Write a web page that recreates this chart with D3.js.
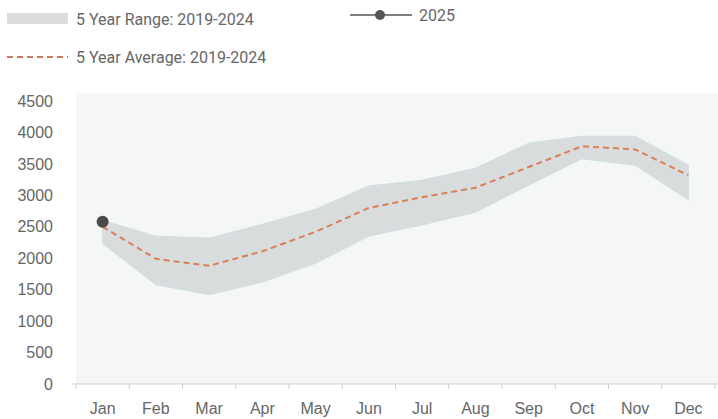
<!DOCTYPE html>
<html>
<head>
<meta charset="utf-8">
<script src="https://cdn.jsdelivr.net/npm/d3@7"></script>
<style>
  body { margin: 0; background: #fff; }
  svg { display: block; font-family: Roboto, "Open Sans", sans-serif; }
</style>
</head>
<body>
<div id="chart"></div>
<script>
"use strict";

// data
let months = ["Jan", "Feb", "Mar", "Apr", "May", "Jun", "Jul", "Aug", "Sep", "Oct", "Nov", "Dec"];
let rangeHigh = [2600, 2350, 2320, 2540, 2780, 3150, 3240, 3430, 3830, 3940, 3940, 3480];
let rangeLow = [2230, 1580, 1420, 1620, 1920, 2350, 2530, 2730, 3160, 3580, 3480, 2925];
let average = [2500, 1990, 1880, 2110, 2420, 2800, 2970, 3120, 3450, 3780, 3730, 3320];
let current = [2580];
let yTicks = [0, 500, 1000, 1500, 2000, 2500, 3000, 3500, 4000, 4500];

let width = 718, height = 419;
let plotLeft = 76, plotRight = 715, plotTop = 93, plotBottom = 384;

let svg = d3.select("#chart").append("svg")
    .attr("width", width)
    .attr("height", height);

let x = d3.scaleBand().domain(months).range([plotLeft, plotRight]);
let y = d3.scaleLinear().domain([0, 4500]).range([plotBottom, 101]);
let cx = m => x(m) + x.bandwidth() / 2;

// plot background
svg.append("rect")
    .attr("x", plotLeft)
    .attr("y", plotTop)
    .attr("width", width - plotLeft)
    .attr("height", plotBottom - plotTop)
    .attr("fill", "#f5f7f7");

// range band
let area = d3.area()
    .x((d, i) => cx(months[i]))
    .y0((d, i) => y(rangeLow[i]))
    .y1(d => y(d));

svg.append("path")
    .datum(rangeHigh)
    .attr("d", area)
    .attr("fill", "#d9dcdd")
    .attr("stroke", "#cde0e2")
    .attr("stroke-width", 1);

// average line
let line = d3.line().x((d, i) => cx(months[i])).y(d => y(d));

svg.append("path")
    .datum(average)
    .attr("d", line)
    .attr("fill", "none")
    .attr("stroke", "#d97f55")
    .attr("stroke-width", 2)
    .attr("stroke-dasharray", "6,4");

// 2025
svg.append("path")
    .datum(current)
    .attr("d", line)
    .attr("fill", "none")
    .attr("stroke", "#555");

svg.selectAll(".cur")
    .data(current)
    .join("circle")
    .attr("cx", (d, i) => cx(months[i]))
    .attr("cy", d => y(d))
    .attr("r", 6)
    .attr("fill", "#4a4a4a");

// x axis
let xAxis = svg.append("g")
    .attr("transform", `translate(0,${plotBottom})`)
    .call(d3.axisBottom(x).tickSize(0).tickPadding(19));
xAxis.select(".domain").attr("stroke", "#ccc").attr("d", `M${plotLeft - 4},0H${width}`);
xAxis.selectAll("text").attr("font-size", 16).attr("fill", "#666").attr("font-family", null);

// ticks at band edges
svg.append("g")
    .selectAll("line")
    .data(months.concat(["end"]))
    .join("line")
    .attr("x1", (d, i) => plotLeft + i * x.bandwidth())
    .attr("x2", (d, i) => plotLeft + i * x.bandwidth())
    .attr("y1", plotBottom)
    .attr("y2", plotBottom + 5)
    .attr("stroke", "#ccc");

// y axis
let yAxis = svg.append("g")
    .attr("transform", `translate(${plotLeft},0)`)
    .call(d3.axisLeft(y).tickValues(yTicks).tickFormat(d3.format("d")).tickSize(0).tickPadding(23));
yAxis.select(".domain").remove();
yAxis.selectAll("text").attr("font-size", 16).attr("fill", "#666").attr("font-family", null);

// legend
let legend = svg.append("g").attr("font-size", 16).attr("fill", "#666");

legend.append("rect")
    .attr("x", 7).attr("y", 13)
    .attr("width", 61).attr("height", 11)
    .attr("fill", "#dcdcdc");
legend.append("text").attr("x", 76).attr("y", 25).text("5 Year Range: 2019-2024");

legend.append("line")
    .attr("x1", 7).attr("x2", 68)
    .attr("y1", 57).attr("y2", 57)
    .attr("stroke", "#c87a5a")
    .attr("stroke-width", 2)
    .attr("stroke-dasharray", "6,4");
legend.append("text").attr("x", 76).attr("y", 63).text("5 Year Average: 2019-2024");

legend.append("line")
    .attr("x1", 350).attr("x2", 412)
    .attr("y1", 15).attr("y2", 15)
    .attr("stroke", "#555")
    .attr("stroke-width", 1.5);
legend.append("circle")
    .attr("cx", 380).attr("cy", 15).attr("r", 5)
    .attr("fill", "#555");
legend.append("text").attr("x", 419).attr("y", 21).text("2025");
</script>
</body>
</html>
